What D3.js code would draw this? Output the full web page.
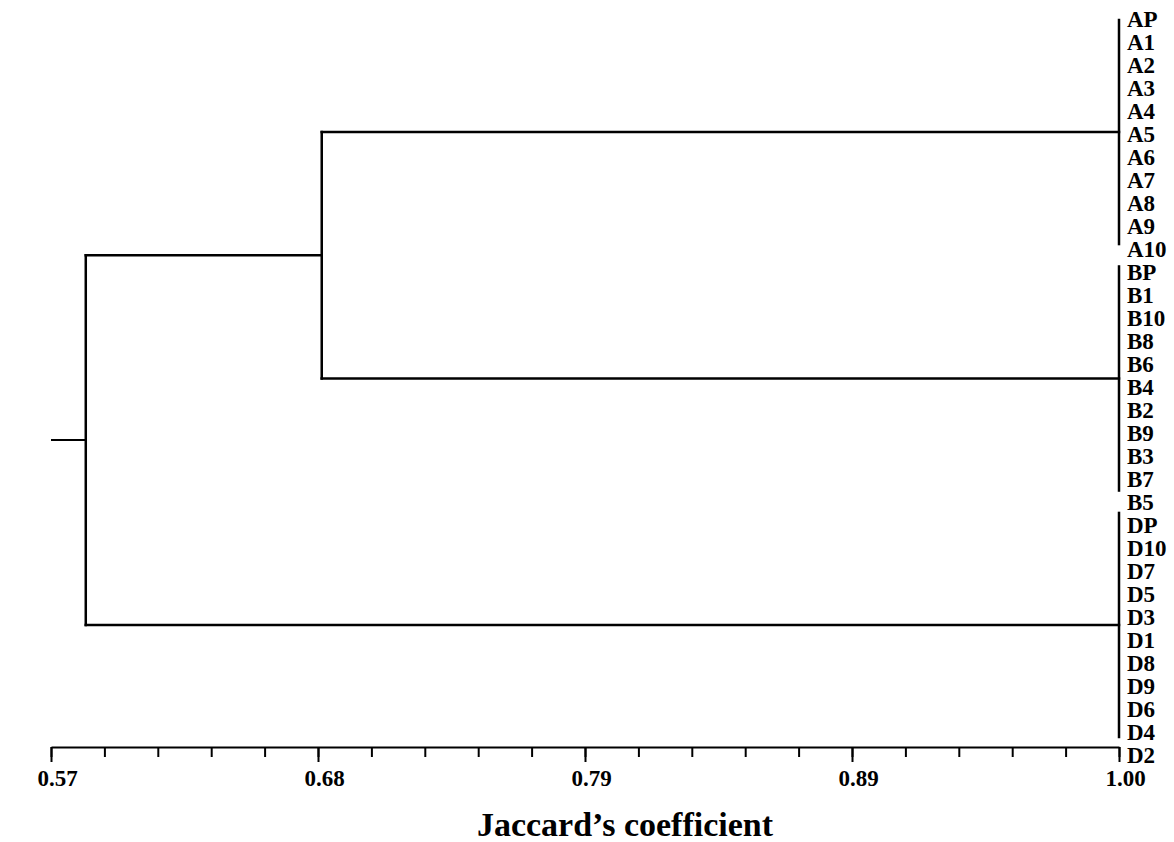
<!DOCTYPE html>
<html>
<head>
<meta charset="utf-8">
<script src="https://cdn.jsdelivr.net/npm/d3@7"></script>
<style>
  body { margin: 0; background: #fff; }
  text { font-family: "Liberation Serif", "Times New Roman", serif; font-weight: bold; fill: #000; }
</style>
</head>
<body>
<script>
// leaf order, top to bottom
var leaves = ["AP","A1","A2","A3","A4","A5","A6","A7","A8","A9","A10",
              "BP","B1","B10","B8","B6","B4","B2","B9","B3","B7","B5",
              "DP","D10","D7","D5","D3","D1","D8","D9","D6","D4","D2"];
var clusterA = leaves.slice(0, 11);
var clusterB = leaves.slice(11, 22);
var clusterD = leaves.slice(22);

// merge heights (Jaccard)
var withinCluster = 1.00;
var mergeAB = 0.679;
var mergeABD = 0.584;
var rootStart = 0.57;

// axis
var majorTicks = [0.57, 0.6775, 0.785, 0.8925, 1.00];
var majorLabels = ["0.57", "0.68", "0.79", "0.89", "1.00"];
var minorStep = 0.0215;

function main() {
    var width = 1174, height = 842;

    var svg = d3.select("body")
      .append("svg")
      .attr("width", width)
      .attr("height", height)

    var x = d3.scaleLinear().domain([0.57, 1.00]).range([51, 1119]);
    var yLine = d3.scalePoint().domain(leaves).range([20, 737]);
    var yLabel = d3.scalePoint().domain(leaves).range([19, 755]);

    function leafNodes(arr) {
        return arr.map(function (n) { return { name: n, h: withinCluster }; });
    }
    var treeData = { h: mergeABD, children: [
        { h: mergeAB, children: [
            { h: withinCluster, children: leafNodes(clusterA) },
            { h: withinCluster, children: leafNodes(clusterB) }
        ] },
        { h: withinCluster, children: leafNodes(clusterD) }
    ] };

    var root = d3.hierarchy(treeData);
    // y of each node: leaves from the scale, parents midway between first and last child
    root.eachAfter(function (d) {
        d.px = x(d.data.h);
        if (!d.children) { d.py = yLine(d.data.name); }
        else {
            var ys = d.children.map(function (c) { return c.py; });
            d.py = (d3.min(ys) + d3.max(ys)) / 2;
        }
    });

    var g = svg.append("g")
      .attr("fill", "none")
      .attr("stroke", "#000")
      .attr("stroke-width", 2.5)
      .attr("stroke-linecap", "square");

    var inner = root.descendants().filter(function (d) { return d.children; });

    // vertical joins
    g.selectAll("line.v")
      .data(inner)
      .enter()
      .append("line")
      .attr("class", "v")
      .attr("x1", function (d) { return d.px; })
      .attr("x2", function (d) { return d.px; })
      .attr("y1", function (d) { return d3.min(d.children, function (c) { return c.py; }); })
      .attr("y2", function (d) { return d3.max(d.children, function (c) { return c.py; }); });

    // horizontal branches
    var links = root.links().filter(function (l) { return l.target.children; });
    g.selectAll("line.h")
      .data(links)
      .enter()
      .append("line")
      .attr("class", "h")
      .attr("x1", function (d) { return d.source.px; })
      .attr("x2", function (d) { return d.target.px; })
      .attr("y1", function (d) { return d.target.py; })
      .attr("y2", function (d) { return d.target.py; });

    // root stub
    g.append("line")
      .attr("x1", x(rootStart) + 1)
      .attr("x2", root.px)
      .attr("y1", root.py)
      .attr("y2", root.py)
      .attr("stroke-width", 2);

    // leaf labels
    svg.append("g").selectAll("text")
      .data(leaves)
      .enter()
      .append("text")
      .attr("x", 1127)
      .attr("y", function (d) { return yLabel(d); })
      .attr("dy", "0.35em")
      .style("font-size", "23px")
      .text(function (d) { return d; });

    // axis
    var axisY = 747;
    var minorTicks = d3.range(0, 21).map(function (i) { return 0.57 + i * minorStep; });

    var minorAxis = svg.append("g")
      .attr("transform", "translate(0," + axisY + ")")
      .call(d3.axisBottom(x).tickValues(minorTicks).tickSize(10).tickSizeOuter(0).tickFormat(""));
    minorAxis.selectAll("line").attr("stroke-width", 2);
    minorAxis.select(".domain").attr("stroke-width", 2);

    var majorAxis = svg.append("g")
      .attr("transform", "translate(0," + axisY + ")")
      .call(d3.axisBottom(x).tickValues(majorTicks).tickSize(15).tickSizeOuter(0)
            .tickFormat(function (d, i) { return majorLabels[i]; }));
    majorAxis.select(".domain").remove();
    majorAxis.selectAll("line").attr("stroke-width", 2);
    majorAxis.selectAll("text")
      .attr("y", 31)
      .attr("dy", "0.35em")
      .attr("dx", 6)
      .style("font-size", "23px")
      .style("font-family", "'Liberation Serif', 'Times New Roman', serif")
      .style("font-weight", "bold")
      .style("fill", "#000");

    svg.append("text")
      .attr("x", 625)
      .attr("y", 836)
      .attr("text-anchor", "middle")
      .style("font-size", "34px")
      .text("Jaccard\u2019s coefficient");
}
main();
</script>
</body>
</html>
